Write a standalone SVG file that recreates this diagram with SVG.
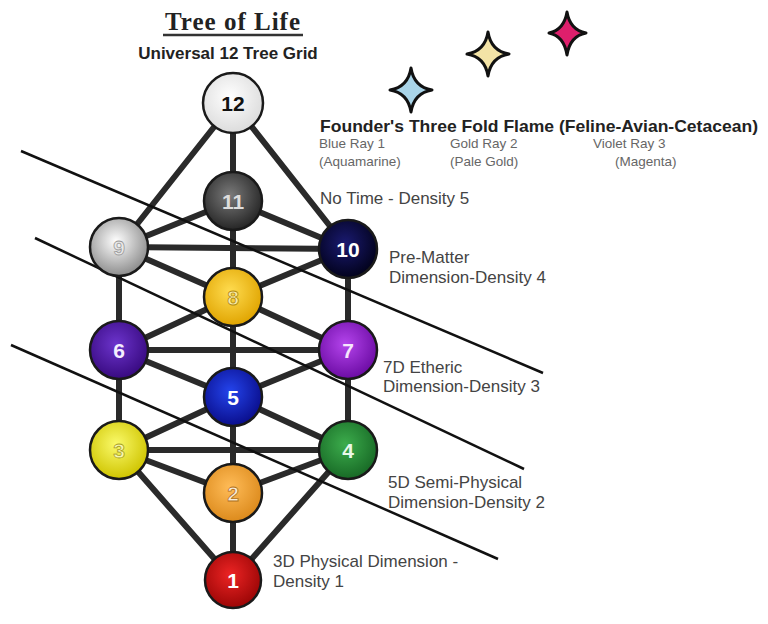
<svg xmlns="http://www.w3.org/2000/svg" width="768" height="624" viewBox="0 0 768 624">
<defs>
<style>
.edge{stroke:#2a2a2a;stroke-width:6;stroke-linecap:round;fill:none}
.band{stroke:#111;stroke-width:2.5;fill:none}
.node{stroke:#1a1a1a;stroke-width:2.5}
.num{font-family:"Liberation Sans",Arial,sans-serif;font-weight:bold;font-size:21px;text-anchor:middle}
.lbl{font-family:"Liberation Sans",Arial,sans-serif;font-size:17px;fill:#444}
.small{font-family:"Liberation Sans",Arial,sans-serif;font-size:13.5px;fill:#666}
.star{stroke:#111;stroke-width:3;stroke-linejoin:round}
</style>
<radialGradient id="g12" cx="45%" cy="40%" r="60%"><stop offset="0" stop-color="#ffffff"/><stop offset="1" stop-color="#dcdcdc"/></radialGradient>
<radialGradient id="g11" cx="45%" cy="40%" r="60%"><stop offset="0" stop-color="#7a7a7a"/><stop offset="1" stop-color="#262626"/></radialGradient>
<radialGradient id="g9" cx="45%" cy="40%" r="60%"><stop offset="0" stop-color="#ffffff"/><stop offset="1" stop-color="#8c8c8c"/></radialGradient>
<radialGradient id="g10" cx="45%" cy="40%" r="60%"><stop offset="0" stop-color="#1a1a70"/><stop offset="1" stop-color="#02021c"/></radialGradient>
<radialGradient id="g8" cx="45%" cy="40%" r="60%"><stop offset="0" stop-color="#ffdc50"/><stop offset="1" stop-color="#e0a400"/></radialGradient>
<radialGradient id="g6" cx="45%" cy="40%" r="60%"><stop offset="0" stop-color="#6c34cc"/><stop offset="1" stop-color="#380a80"/></radialGradient>
<radialGradient id="g7" cx="45%" cy="40%" r="60%"><stop offset="0" stop-color="#b444ec"/><stop offset="1" stop-color="#6c0ca4"/></radialGradient>
<radialGradient id="g5" cx="45%" cy="40%" r="60%"><stop offset="0" stop-color="#2444ec"/><stop offset="1" stop-color="#0a0e8c"/></radialGradient>
<radialGradient id="g3" cx="45%" cy="40%" r="60%"><stop offset="0" stop-color="#fafa6a"/><stop offset="1" stop-color="#cfc400"/></radialGradient>
<radialGradient id="g4" cx="45%" cy="40%" r="60%"><stop offset="0" stop-color="#3cac4c"/><stop offset="1" stop-color="#186a26"/></radialGradient>
<radialGradient id="g2" cx="45%" cy="40%" r="60%"><stop offset="0" stop-color="#ffbc58"/><stop offset="1" stop-color="#dc8a1c"/></radialGradient>
<radialGradient id="g1" cx="45%" cy="40%" r="60%"><stop offset="0" stop-color="#ec2424"/><stop offset="1" stop-color="#9c0606"/></radialGradient>
</defs>
<rect width="768" height="624" fill="#ffffff"/>

<g id="title">
<text x="233" y="30" text-anchor="middle" font-family="Liberation Serif,'Times New Roman',serif" font-weight="bold" font-size="25" letter-spacing="1" fill="#222">Tree of Life</text>
<line x1="163" y1="35" x2="303" y2="35" stroke="#333" stroke-width="2.5"/>
<text x="228" y="59" text-anchor="middle" font-family="Liberation Sans,Arial,sans-serif" font-weight="bold" font-size="17" fill="#222">Universal 12 Tree Grid</text>
</g>

<g id="stars">
<path class="star" fill="#a9d4e8" d="M411,68 Q414,87 432,90 Q414,93 411,112 Q408,93 390,90 Q408,87 411,68 Z"/>
<path class="star" fill="#f3e3a6" d="M488,32 Q491,51 509,54 Q491,57 488,76 Q485,57 467,54 Q485,51 488,32 Z"/>
<path class="star" fill="#de1f6c" d="M567,12 Q570,30 586,33 Q570,36 567,55 Q564,36 549,33 Q564,30 567,12 Z"/>
</g>

<g id="founder">
<text x="320" y="132" font-family="Liberation Sans,Arial,sans-serif" font-weight="bold" font-size="17" fill="#222" textLength="438" lengthAdjust="spacingAndGlyphs">Founder's Three Fold Flame (Feline-Avian-Cetacean)</text>
<text class="small" x="319" y="148">Blue Ray 1</text>
<text class="small" x="319" y="166">(Aquamarine)</text>
<text class="small" x="450" y="148">Gold Ray 2</text>
<text class="small" x="450" y="166">(Pale Gold)</text>
<text class="small" x="593" y="148">Violet Ray 3</text>
<text class="small" x="615" y="166">(Magenta)</text>
</g>

<g id="connectors">
<line class="edge" x1="233" y1="103" x2="233" y2="201"/>
<line class="edge" x1="233" y1="103" x2="119" y2="247"/>
<line class="edge" x1="233" y1="103" x2="348" y2="249"/>
<line class="edge" x1="233" y1="201" x2="119" y2="247"/>
<line class="edge" x1="233" y1="201" x2="348" y2="249"/>
<line class="edge" x1="233" y1="201" x2="233" y2="297"/>
<line class="edge" x1="119" y1="247" x2="348" y2="249"/>
<line class="edge" x1="119" y1="247" x2="233" y2="297"/>
<line class="edge" x1="348" y1="249" x2="233" y2="297"/>
<line class="edge" x1="119" y1="247" x2="119" y2="350"/>
<line class="edge" x1="348" y1="249" x2="348" y2="350"/>
<line class="edge" x1="233" y1="297" x2="119" y2="350"/>
<line class="edge" x1="233" y1="297" x2="348" y2="350"/>
<line class="edge" x1="233" y1="297" x2="233" y2="397"/>
<line class="edge" x1="119" y1="350" x2="348" y2="350"/>
<line class="edge" x1="119" y1="350" x2="233" y2="397"/>
<line class="edge" x1="348" y1="350" x2="233" y2="397"/>
<line class="edge" x1="119" y1="350" x2="119" y2="450"/>
<line class="edge" x1="348" y1="350" x2="348" y2="450"/>
<line class="edge" x1="233" y1="397" x2="119" y2="450"/>
<line class="edge" x1="233" y1="397" x2="348" y2="450"/>
<line class="edge" x1="233" y1="397" x2="233" y2="493"/>
<line class="edge" x1="119" y1="450" x2="348" y2="450"/>
<line class="edge" x1="119" y1="450" x2="233" y2="493"/>
<line class="edge" x1="348" y1="450" x2="233" y2="493"/>
<line class="edge" x1="119" y1="450" x2="233" y2="580"/>
<line class="edge" x1="348" y1="450" x2="233" y2="580"/>
<line class="edge" x1="233" y1="493" x2="233" y2="580"/>
</g>

<g id="density-lines">
<line class="band" x1="21" y1="151" x2="543" y2="373"/>
<line class="band" x1="35" y1="238" x2="524" y2="469"/>
<line class="band" x1="11" y1="345" x2="498" y2="559"/>
</g>

<g id="node-12"><circle class="node" cx="233" cy="103" r="30" fill="url(#g12)"/><text class="num" x="233" y="111" fill="#111">12</text></g>
<g id="node-11"><circle class="node" cx="233" cy="201" r="29" fill="url(#g11)"/><text class="num" x="233" y="209" fill="#dddddd">11</text></g>
<g id="node-9"><circle class="node" cx="119" cy="247" r="29" fill="url(#g9)"/><text class="num" x="119" y="255" fill="#e8e8e8" stroke="#999" stroke-width="0.8">9</text></g>
<g id="node-10"><circle class="node" cx="348" cy="249" r="29" fill="url(#g10)"/><text class="num" x="348" y="257" fill="#ffffff">10</text></g>
<g id="node-8"><circle class="node" cx="233" cy="297" r="29" fill="url(#g8)"/><text class="num" x="233" y="305" fill="#f6eaa8" stroke="#b08a10" stroke-width="0.8">8</text></g>
<g id="node-6"><circle class="node" cx="119" cy="350" r="29" fill="url(#g6)"/><text class="num" x="119" y="358" fill="#f4eeff">6</text></g>
<g id="node-7"><circle class="node" cx="348" cy="350" r="29" fill="url(#g7)"/><text class="num" x="348" y="358" fill="#f6e6fc">7</text></g>
<g id="node-5"><circle class="node" cx="233" cy="397" r="29" fill="url(#g5)"/><text class="num" x="233" y="405" fill="#ffffff">5</text></g>
<g id="node-3"><circle class="node" cx="119" cy="450" r="29" fill="url(#g3)"/><text class="num" x="119" y="458" fill="#f6f6b0" stroke="#a8a020" stroke-width="0.8">3</text></g>
<g id="node-4"><circle class="node" cx="348" cy="450" r="29" fill="url(#g4)"/><text class="num" x="348" y="458" fill="#eaf8ea">4</text></g>
<g id="node-2"><circle class="node" cx="233" cy="493" r="29" fill="url(#g2)"/><text class="num" x="233" y="501" fill="#f8ecd8" stroke="#b07020" stroke-width="0.8">2</text></g>
<g id="node-1"><circle class="node" cx="233" cy="580" r="28" fill="url(#g1)"/><text class="num" x="233" y="588" fill="#ffffff">1</text></g>

<g id="labels">
<text class="lbl" x="320" y="204">No Time - Density 5</text>
<text class="lbl" x="389" y="263">Pre-Matter</text>
<text class="lbl" x="389" y="283">Dimension-Density 4</text>
<text class="lbl" x="383" y="373">7D Etheric</text>
<text class="lbl" x="383" y="392">Dimension-Density 3</text>
<text class="lbl" x="388" y="488">5D Semi-Physical</text>
<text class="lbl" x="388" y="508">Dimension-Density 2</text>
<text class="lbl" x="273" y="567">3D Physical Dimension -</text>
<text class="lbl" x="273" y="587">Density 1</text>
</g>
</svg>
